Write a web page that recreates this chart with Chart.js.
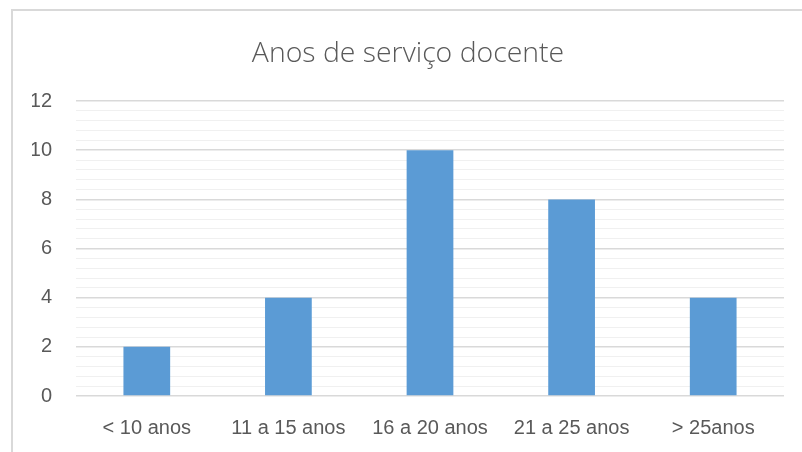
<!DOCTYPE html>
<html>
<head>
<meta charset="utf-8">
<script src="https://cdn.jsdelivr.net/npm/chart.js@4"></script>
<style>
html,body{margin:0;padding:0;background:#fff;}
#wrap{width:802px;height:452px;}
</style>
</head>
<body>
<div id="wrap"><canvas id="chart" width="802" height="452"></canvas></div>
<script>
const categories = ["< 10 anos", "11 a 15 anos", "16 a 20 anos", "21 a 25 anos", "> 25anos"];
const values = [2, 4, 10, 8, 4];
const yMax = 12;
const yStep = 0.4;
const titleText = "Anos de serviço docente";

const isMajor = v => Math.abs(v / 2 - Math.round(v / 2)) < 1e-6;

const frame = {
  id: "frame",
  beforeDraw(chart) {
    const c = chart.ctx;
    c.save();
    c.fillStyle = "#fff";
    c.fillRect(0, 0, chart.width, chart.height);
    c.strokeStyle = "#d9d9d9";
    c.lineWidth = 2;
    c.strokeRect(12, 10, chart.width + 20, chart.height + 20);
    c.restore();
  }
};

new Chart(document.getElementById("chart"), {
  type: "bar",
  data: {
    labels: categories,
    datasets: [{
      data: values,
      backgroundColor: "#5b9bd5",
      barPercentage: 0.33,
      categoryPercentage: 1
    }]
  },
  options: {
    responsive: false,
    animation: false,
    layout: { padding: { left: 32, right: 18, top: 0, bottom: 0 } },
    plugins: {
      legend: { display: false },
      tooltip: { enabled: false },
      title: {
        display: true,
        text: titleText,
        color: "#595959",
        font: { family: "'Open Sans'", size: 28.4, weight: 300 },
        padding: { top: 37, bottom: 30 }
      }
    },
    scales: {
      x: {
        grid: { display: false },
        border: { display: false },
        ticks: {
          color: "#595959",
          font: { family: "'Liberation Sans'", size: 20 },
          padding: 12,
          maxRotation: 0
        }
      },
      y: {
        min: 0,
        max: yMax,
        afterFit(scale) { scale.width = 44; },
        border: { display: false },
        grid: {
          drawTicks: false,
          color: ctx => isMajor(ctx.tick.value) ? "#d9d9d9" : "#f0f0f0",
          lineWidth: ctx => isMajor(ctx.tick.value) ? 1.5 : 1
        },
        ticks: {
          stepSize: yStep,
          autoSkip: false,
          padding: 24,
          color: "#595959",
          font: { family: "'Liberation Sans'", size: 20 },
          callback: v => isMajor(v) ? String(Math.round(v)) : ""
        }
      }
    }
  },
  plugins: [frame]
});
</script>
</body>
</html>
